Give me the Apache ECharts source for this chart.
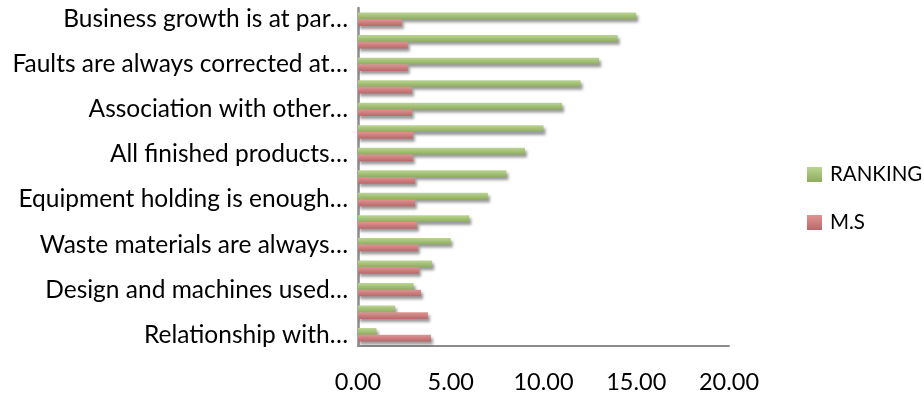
<!DOCTYPE html>
<html>
<head>
<meta charset="utf-8">
<script src="https://cdn.jsdelivr.net/npm/echarts@6/dist/echarts.min.js"></script>
<style>
  html, body { margin: 0; padding: 0; background: #fff; }
  #chart { width: 924px; height: 396px; }
</style>
</head>
<body>
<div id="chart"></div>
<script>
// Statements listed top to bottom; only every other row carries a printed label.
const categories = [
  'Business growth is at par…', '',
  'Faults are always corrected at…', '',
  'Association with other…', '',
  'All finished products…', '',
  'Equipment holding is enough…', '',
  'Waste materials are always…', '',
  'Design and machines used…', '',
  'Relationship with…'
];
const ranking = [15, 14, 13, 12, 11, 10, 9, 8, 7, 6, 5, 4, 3, 2, 1];
const meanScore = [2.36, 2.68, 2.68, 2.91, 2.91, 2.96, 2.96, 3.07, 3.07, 3.18, 3.23, 3.29, 3.40, 3.77, 3.93];
const seriesNames = ['RANKING', 'M.S'];
const xTicks = { min: 0, max: 20, step: 5 };

const FONT = 'Lato';

function grad(top, bottom) {
  return new echarts.graphic.LinearGradient(0, 0, 0, 1, [
    { offset: 0, color: top },
    { offset: 1, color: bottom }
  ]);
}

const barShadow = {
  shadowColor: 'rgba(0,0,0,0.4)',
  shadowBlur: 3,
  shadowOffsetX: 2,
  shadowOffsetY: 3
};

const chart = echarts.init(document.getElementById('chart'), null, { renderer: 'canvas' });
chart.setOption({
  animation: false,
  textStyle: { fontFamily: FONT },
  grid: { left: 358, top: 8, width: 371, height: 338, containLabel: false },
  legend: {
    orient: 'vertical',
    left: 802,
    top: 159,
    itemWidth: 15,
    itemHeight: 15,
    itemGap: 27,
    icon: 'rect',
    textStyle: { fontFamily: FONT, fontSize: 20.5, color: '#000', padding: [0, 0, 0, 3] },
    data: seriesNames
  },
  xAxis: {
    type: 'value',
    min: xTicks.min,
    max: xTicks.max,
    interval: xTicks.step,
    axisLine: { show: true, lineStyle: { color: '#8c8c8c', width: 2 } },
    axisTick: { show: false },
    splitLine: { show: false },
    axisLabel: {
      fontFamily: FONT, fontSize: 23.5, color: '#000', margin: 24,
      formatter: v => v.toFixed(2)
    }
  },
  yAxis: {
    type: 'category',
    inverse: true,
    data: categories,
    axisLine: { show: true, lineStyle: { color: '#8c8c8c', width: 2.5 } },
    axisTick: { show: false },
    axisLabel: { interval: 0, fontFamily: FONT, fontSize: 24.5, color: '#000', margin: 10 }
  },
  series: [
    {
      name: seriesNames[0],
      type: 'bar',
      data: ranking,
      barWidth: 6.7,
      barGap: '0%',
      itemStyle: Object.assign({ color: grad('#bad592', '#8eac5e') }, barShadow)
    },
    {
      name: seriesNames[1],
      type: 'bar',
      data: meanScore,
      barWidth: 6.7,
      barGap: '0%',
      itemStyle: Object.assign({ color: grad('#e09492', '#b8696a') }, barShadow)
    }
  ]
});
</script>
</body>
</html>
